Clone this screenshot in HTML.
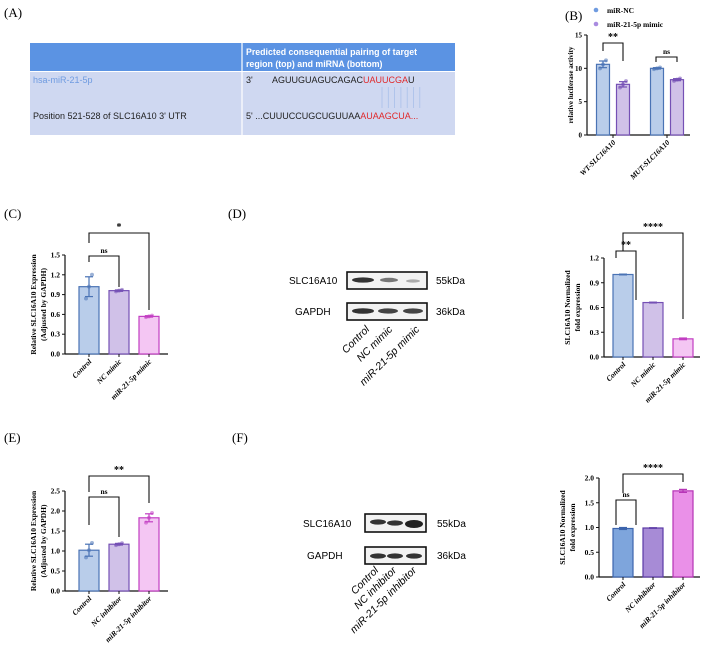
<!DOCTYPE html>
<html><head><meta charset="utf-8"><style>
body{margin:0;background:#fff;}
svg{display:block;font-family:"Liberation Serif",serif;}
.sans{font-family:"Liberation Sans",sans-serif;}
</style></head><body>
<svg id="fig" width="704" height="653" viewBox="0 0 704 653">
<g>
<text x="4" y="17" font-size="13">(A)</text>
<rect x="30" y="43" width="425" height="28" fill="#5b93e3"/>
<rect x="30" y="72" width="425" height="63" fill="#cfd8f1"/>
<line x1="242" y1="43" x2="242" y2="135" stroke="#fff" stroke-width="1.2"/>
<text class="sans" x="246" y="55" font-size="8.8" font-weight="bold" fill="#fff">Predicted consequential pairing of target</text>
<text class="sans" x="246" y="67" font-size="8.8" font-weight="bold" fill="#fff">region (top) and miRNA (bottom)</text>
<text class="sans" x="33" y="83" font-size="9" fill="#6f9be0">hsa-miR-21-5p</text>
<text class="sans" x="33" y="119" font-size="9" fill="#222">Position 521-528 of SLC16A10 3' UTR</text>
<text class="sans" x="246" y="83" font-size="9" fill="#222">3'<tspan x="272">AGUUGUAGUCAGAC</tspan><tspan fill="#e0282a">UAUUCGA</tspan>U</text>
<text class="sans" x="246" y="119" font-size="9" fill="#222">5' ...CUUUCCUGCUGUUAA<tspan fill="#e0282a">AUAAGCUA...</tspan></text>
<g id="pairs" stroke="#a9c0ea" stroke-width="0.8"></g>
</g>
<g id="charts"></g>
<g>
<text x="228" y="218" font-size="13">(D)</text>
<text class="sans" x="289" y="284" font-size="10">SLC16A10</text>
<text class="sans" x="295" y="315" font-size="10">GAPDH</text>
<rect x="347" y="272" width="80" height="17" fill="#f2f2f2" stroke="#111" stroke-width="1.6"/>
<ellipse cx="363" cy="280" rx="11" ry="2.6" fill="#333"/><ellipse cx="389" cy="280" rx="9" ry="2.2" fill="#777"/><ellipse cx="413" cy="281" rx="7" ry="1.6" fill="#aaa"/>
<rect x="347" y="303" width="80" height="17" fill="#f2f2f2" stroke="#111" stroke-width="1.6"/>
<ellipse cx="363" cy="311" rx="11" ry="2.8" fill="#333"/><ellipse cx="388" cy="311" rx="10" ry="2.6" fill="#444"/><ellipse cx="413" cy="311" rx="10" ry="2.6" fill="#444"/>
<text class="sans" x="436" y="284" font-size="10">55kDa</text>
<text class="sans" x="436" y="315" font-size="10">36kDa</text>
<text class="sans" font-size="10.5" font-style="italic" transform="translate(370,330) rotate(-45)" text-anchor="end">Control</text>
<text class="sans" font-size="10.5" font-style="italic" transform="translate(393,330) rotate(-45)" text-anchor="end">NC mimic</text>
<text class="sans" font-size="10.5" font-style="italic" transform="translate(420,330) rotate(-45)" text-anchor="end">miR-21-5p mimic</text>
</g>
<g>
<text x="232" y="442" font-size="13">(F)</text>
<text class="sans" x="303" y="527" font-size="10">SLC16A10</text>
<text class="sans" x="307" y="559" font-size="10">GAPDH</text>
<rect x="365" y="514" width="61" height="18" fill="#f2f2f2" stroke="#111" stroke-width="1.6"/>
<ellipse cx="378" cy="522" rx="8" ry="2.6" fill="#333"/><ellipse cx="395" cy="523" rx="8" ry="2.6" fill="#333"/><ellipse cx="414" cy="524" rx="9" ry="4" fill="#222"/>
<rect x="365" y="547" width="61" height="17" fill="#f2f2f2" stroke="#111" stroke-width="1.6"/>
<ellipse cx="378" cy="556" rx="8" ry="2.6" fill="#333"/><ellipse cx="395" cy="556" rx="8" ry="2.6" fill="#333"/><ellipse cx="414" cy="556" rx="8" ry="2.6" fill="#333"/>
<text class="sans" x="437" y="527" font-size="10">55kDa</text>
<text class="sans" x="437" y="559" font-size="10">36kDa</text>
<text class="sans" font-size="10.5" font-style="italic" transform="translate(379,571) rotate(-45)" text-anchor="end">Control</text>
<text class="sans" font-size="10.5" font-style="italic" transform="translate(397,571) rotate(-45)" text-anchor="end">NC inhibitor</text>
<text class="sans" font-size="10.5" font-style="italic" transform="translate(417,571) rotate(-45)" text-anchor="end">miR-21-5p inhibitor</text>
</g>
<text x="565" y="20" font-size="13">(B)</text>
<text x="4" y="218" font-size="13">(C)</text>
<text x="4" y="442" font-size="13">(E)</text>
<g>
<circle cx="596" cy="10" r="2.3" fill="#6f9be0"/><text x="607" y="13" font-size="7.5" font-weight="bold">miR-NC</text>
<circle cx="596" cy="24" r="2.3" fill="#a98be0"/><text x="607" y="27" font-size="7.5" font-weight="bold">miR-21-5p mimic</text>
</g>
</svg>
<script>
// Panel B data
const bCategories = ["WT-SLC16A10","MUT-SLC16A10"];
const bNC = [10.6, 10.0];
const bMimic = [7.6, 8.3];
const bNCErr = [0.5, 0.1];
const bMimicErr = [0.4, 0.15];
const bTicks = [0,5,10,15];
// Panel C data
const cCategories = ["Control","NC mimic","miR-21-5p mimic"];
const cValues = [1.02, 0.96, 0.57];
const cErr = [0.15, 0.01, 0.01];
const cTicks = [0.0,0.3,0.6,0.9,1.2,1.5];
// Panel D chart
const dCategories = ["Control","NC mimic","miR-21-5p mimic"];
const dValues = [1.0, 0.66, 0.22];
const dErr = [0.005, 0.005, 0.01];
const dTicks = [0.0,0.3,0.6,0.9,1.2];
// Panel E
const eCategories = ["Control","NC inhibitor","miR-21-5p inhibitor"];
const eValues = [1.02, 1.17, 1.83];
const eErr = [0.15, 0.02, 0.1];
const eTicks = [0.0,0.5,1.0,1.5,2.0,2.5];
// Panel F chart
const fCategories = ["Control","NC inhibitor","miR-21-5p inhibitor"];
const fValues = [0.98, 0.99, 1.74];
const fErr = [0.02, 0.005, 0.03];
const fTicks = [0.0,0.5,1.0,1.5,2.0];

const NS="http://www.w3.org/2000/svg";
const root=document.getElementById('charts');
function mk(tag,attrs,parent){const e=document.createElementNS(NS,tag);for(const k in attrs)e.setAttribute(k,attrs[k]);(parent||root).appendChild(e);return e;}

const pg=document.getElementById('pairs');
for(let i=0;i<7;i++){mk('line',{x1:382+i*6.3,y1:87,x2:382+i*6.3,y2:108},pg);}

const light=[["#b9cdea","#4a73b5"],["#d0c1e8","#7550b5"],["#f4c6f3","#c23ec2"]];
const dark=[["#7ea5dc","#3c64ad"],["#a78bd6","#5b3aa6"],["#ea90e8","#b532b5"]];

function chart(o){
  const g=mk('g',{});
  
  
  const ymax=o.ticks[o.ticks.length-1];
  const Y=v=>o.y0-(v/ymax)*(o.y0-o.y1);
  const fs=o.fs||7.5;
  mk('line',{x1:o.x0,y1:o.y1,x2:o.x0,y2:o.y0,stroke:'#111','stroke-width':1.2},g);
  mk('line',{x1:o.x0,y1:o.y0,x2:o.xEnd,y2:o.y0,stroke:'#111','stroke-width':1.2},g);
  o.ticks.forEach(t=>{
    mk('line',{x1:o.x0-3,y1:Y(t),x2:o.x0,y2:Y(t),stroke:'#111','stroke-width':1},g);
    const tx=mk('text',{x:o.x0-5,y:Y(t)+2.5,'font-size':fs,'font-weight':'bold','text-anchor':'end'},g);
    tx.textContent=o.fmt?o.fmt(t):t;
    
    
  });
  o.series.forEach((s,si)=>{
    s.values.forEach((v,i)=>{
      const cx=o.xs[i]+(s.off||0);
      const col=s.colors[i];
      const r=mk('rect',{x:cx-o.bw/2,y:Y(v),width:o.bw,height:o.y0-Y(v),fill:col[0],stroke:col[1],'stroke-width':1.2},g);
      
      
      const e=s.err[i];
      mk('line',{x1:cx,y1:Y(v+e),x2:cx,y2:Y(v-e),stroke:col[1],'stroke-width':1.2},g);
      mk('line',{x1:cx-4,y1:Y(v+e),x2:cx+4,y2:Y(v+e),stroke:col[1],'stroke-width':1.2},g);
      mk('line',{x1:cx-4,y1:Y(v-e),x2:cx+4,y2:Y(v-e),stroke:col[1],'stroke-width':1.2},g);
      if(o.dots){[-1,0,1].forEach(k=>{mk('circle',{cx:cx+k*3,cy:Y(v+k*e*1.2*(k===0?-1:1)),r:2,fill:col[1],opacity:0.55},g);});}
    });
  });
  o.cats.forEach((c,i)=>{
    const x=o.xs[i]+(o.labelOff||0);
    mk('line',{x1:x,y1:o.y0,x2:x,y2:o.y0+3,stroke:'#111'},g);
    const t=mk('text',{transform:`translate(${x+3},${o.y0+8}) rotate(-45)`,'font-size':o.xfs||7.5,'font-weight':'bold','font-style':'italic','text-anchor':'end'},g);
    t.textContent=c;
    
    
  });
  const yl=mk('text',{transform:`translate(${o.x0-o.ylOff},${(o.y0+o.y1)/2}) rotate(-90)`,'font-size':fs,'font-weight':'bold','text-anchor':'middle'},g);
  
  
  o.ylab.forEach((l,k)=>{const ts=mk('tspan',{x:0,dy:k?10:(o.ylab.length>1?-5:0)},yl);ts.textContent=l;});
  (o.brackets||[]).forEach(b=>{
    const x1=b.x1,x2=b.x2;
    mk('polyline',{points:`${x1},${b.l1} ${x1},${b.y} ${x2},${b.y} ${x2},${b.l2}`,fill:'none',stroke:'#111','stroke-width':1.1},g);
    const t=mk('text',{x:(x1+x2)/2,y:b.y-3,'font-size':b.t==='ns'?7.5:10,'font-weight':'bold','text-anchor':'middle'},g);
    t.textContent=b.t;
    
    
  });
}
const f1=t=>t.toFixed(1);
chart({name:'chart-b',x0:587,xEnd:690,y0:135,y1:35,ticks:bTicks,cats:bCategories,xs:[613,667],bw:13,labelOff:0,dots:true,fs:7,
  series:[{values:bNC,err:bNCErr,off:-10,colors:[light[0],light[0]],label:'nc-'},{values:bMimic,err:bMimicErr,off:10,colors:[light[1],light[1]],label:'mimic-'}],
  ylab:['relative  luciferase activity'],ylOff:14,
  brackets:[{x1:603,x2:623,y:43,l1:51,l2:61,t:'**'},{x1:656,x2:677,y:57,l1:62,l2:62,t:'ns'}]});
chart({name:'chart-c',x0:65,xEnd:168,y0:354,y1:255,ticks:cTicks,fmt:f1,cats:cCategories,xs:[89,119,149],bw:20,dots:true,
  series:[{values:cValues,err:cErr,colors:light}],ylab:['Relative  SLC16A10 Expression','(Adjusted by GAPDH)'],ylOff:24,
  brackets:[{x1:89,x2:119,y:256,l1:262,l2:287,t:'ns'},{x1:89,x2:149,y:233,l1:243,l2:310,t:'*'}]});
chart({name:'chart-d',x0:604,xEnd:700,y0:357,y1:258,ticks:dTicks,fmt:f1,cats:dCategories,xs:[623,653,683],bw:20,
  series:[{values:dValues,err:dErr,colors:light}],ylab:['SLC16A10 Normalized','fold expression'],ylOff:29,
  brackets:[{x1:616,x2:636,y:251,l1:258,l2:300,t:'**'},{x1:623,x2:683,y:233,l1:251,l2:319,t:'****'}]});
chart({name:'chart-e',x0:65,xEnd:168,y0:591,y1:491,ticks:eTicks,fmt:f1,cats:eCategories,xs:[89,119,149],bw:20,dots:true,
  series:[{values:eValues,err:eErr,colors:light}],ylab:['Relative  SLC16A10 Expression','(Adjusted by GAPDH)'],ylOff:24,
  brackets:[{x1:89,x2:119,y:497,l1:525,l2:537,t:'ns'},{x1:89,x2:149,y:476,l1:492,l2:503,t:'**'}]});
chart({name:'chart-f',x0:599,xEnd:700,y0:577,y1:478,ticks:fTicks,fmt:f1,cats:fCategories,xs:[623,653,683],bw:20,
  series:[{values:fValues,err:fErr,colors:dark}],ylab:['SLC16A10 Normalized','fold expression'],ylOff:29,
  brackets:[{x1:616,x2:636,y:500,l1:525,l2:525,t:'ns'},{x1:623,x2:683,y:474,l1:493,l2:482,t:'****'}]});
</script>
</body></html>
